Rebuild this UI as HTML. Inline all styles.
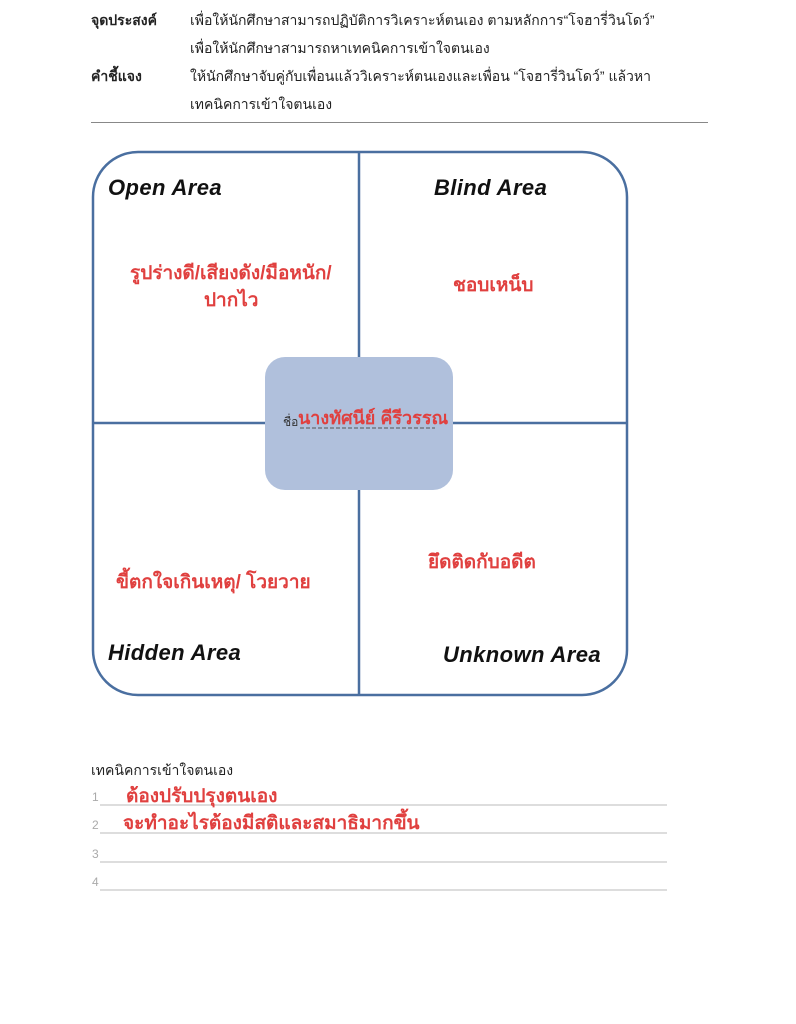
<!DOCTYPE html>
<html><head><meta charset="utf-8"><style>
body{margin:0;width:796px;height:1024px;background:#fff;position:relative;overflow:hidden;font-family:"Liberation Sans","Noto Sans CJK SC",sans-serif}
.t{position:absolute;white-space:nowrap}
.k{font-size:14px;color:#222}
.b{font-weight:bold}
.red{color:#e0403f;font-size:19px;font-weight:bold}
.area{font-size:22px;font-weight:bold;font-style:italic;color:#111}
</style></head><body>
<div class="t k b" style="left:91px;top:10px">จุดประสงค์</div>
<div class="t k" style="left:190px;top:10px">เพื่อให้นักศึกษาสามารถปฏิบัติการวิเคราะห์ตนเอง ตามหลักการ“โจฮารี่วินโดว์”</div>
<div class="t k" style="left:190px;top:38px">เพื่อให้นักศึกษาสามารถหาเทคนิคการเข้าใจตนเอง</div>
<div class="t k b" style="left:91px;top:66px">คำชี้แจง</div>
<div class="t k" style="left:190px;top:66px">ให้นักศึกษาจับคู่กับเพื่อนแล้ววิเคราะห์ตนเองและเพื่อน “โจฮารี่วินโดว์” แล้วหา</div>
<div class="t k" style="left:190px;top:94px">เทคนิคการเข้าใจตนเอง</div>
<div style="position:absolute;left:91px;top:122px;width:617px;height:1px;background:#888"></div>
<svg style="position:absolute;left:0;top:0" width="796" height="1024">
<rect x="93" y="152" width="534" height="543" rx="45" fill="none" stroke="#4a6fa0" stroke-width="2.5"/>
<line x1="359" y1="152" x2="359" y2="695" stroke="#4a6fa0" stroke-width="2.5"/>
<line x1="93" y1="423" x2="627" y2="423" stroke="#4a6fa0" stroke-width="2.5"/>
<rect x="265" y="357" width="188" height="133" rx="20" fill="#b0c0dc"/>
<line x1="300" y1="428" x2="435" y2="428" stroke="#555" stroke-width="1" stroke-dasharray="4 2"/>
<g stroke="#bbb" stroke-width="1"><line x1="100" y1="805" x2="667" y2="805"/><line x1="100" y1="833" x2="667" y2="833"/><line x1="100" y1="862" x2="667" y2="862"/><line x1="100" y1="890" x2="667" y2="890"/></g>
</svg>
<div class="t area" style="left:108px;top:175px;letter-spacing:0.4px">Open Area</div>
<div class="t area" style="left:434px;top:175px;letter-spacing:0.4px">Blind Area</div>
<div class="t area" style="left:108px;top:640px;letter-spacing:0.4px">Hidden Area</div>
<div class="t area" style="left:443px;top:642px;letter-spacing:0.4px">Unknown Area</div>
<div class="t red" style="left:130px;top:258px">รูปร่างดี/เสียงดัง/มือหนัก/</div>
<div class="t red" style="left:204px;top:285px">ปากไว</div>
<div class="t red" style="left:453px;top:270px">ชอบเหน็บ</div>
<div class="t red" style="left:116px;top:567px">ขี้ตกใจเกินเหตุ/ โวยวาย</div>
<div class="t red" style="left:428px;top:547px">ยึดติดกับอดีต</div>
<div class="t" style="left:283px;top:413px;font-size:12px;color:#333">ชื่อ</div>
<div class="t red" style="left:298px;top:403px;font-size:18px">นางทัศนีย์ คีรีวรรณ</div>
<div class="t k" style="left:91px;top:760px">เทคนิคการเข้าใจตนเอง</div>
<div class="t" style="left:92px;top:790px;font-size:12px;color:#aaa">1</div>
<div class="t" style="left:92px;top:818px;font-size:12px;color:#aaa">2</div>
<div class="t" style="left:92px;top:847px;font-size:12px;color:#aaa">3</div>
<div class="t" style="left:92px;top:875px;font-size:12px;color:#aaa">4</div>
<div class="t red" style="left:126px;top:781px">ต้องปรับปรุงตนเอง</div>
<div class="t red" style="left:123px;top:808px">จะทำอะไรต้องมีสติและสมาธิมากขึ้น</div>
</body></html>
